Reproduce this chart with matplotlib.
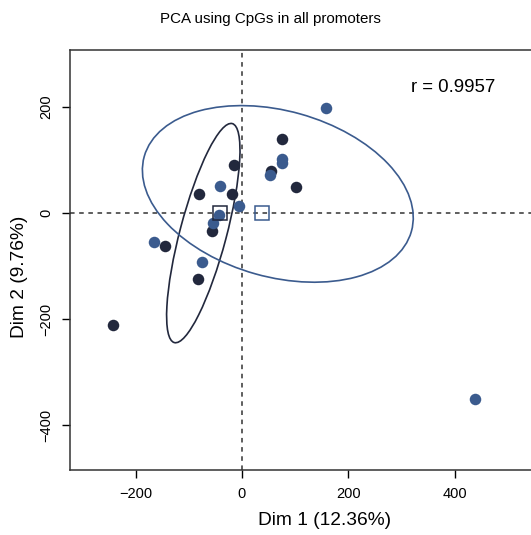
import numpy as np
import matplotlib
matplotlib.use("Agg")
import matplotlib.pyplot as plt
from matplotlib.patches import Ellipse

plt.rcParams['font.family'] = ['Liberation Sans', 'DejaVu Sans']

# group 1 (dark navy)
dark_x = [-242.6, -144.8, -83.3, -80.3, -57.0, -19.4, -15.0, 54.5, 75.2, 101.0]
dark_y = [-211.0, -62.0, -125.0, 35.0, -34.5, 36.4, 91.0, 79.7, 139.0, 49.6]

# group 2 (blue)
blue_x = [159.0, 437.6, -165.0, -74.6, -42.0, -43.9, -53.9, -5.0, 52.0, 74.6, 74.6]
blue_y = [198.0, -349.7, -55.0, -91.6, 50.0, -3.8, -19.5, 13.8, 71.6, 101.7, 93.5]

# ellipses: center x, center y, full width, full height, angle (deg)
dark_ell = (-72.7, -37.8, 426.6, 87.6, 75.2)
blue_ell = (67.5, 36.0, 522.0, 312.8, -15.7)

dark_col = "#22283d"
blue_col = "#3b5b8e"

fig = plt.figure(figsize=(5.31, 5.35), dpi=100)
# plot region runs past the right edge of the image, as in the original
ax = fig.add_axes([0.1318, 0.1215, 0.9605, 0.785])

ax.axhline(0, color="#333333", ls=(0, (3, 3)), lw=1.1, zorder=1)
ax.axvline(0, color="#333333", ls=(0, (3, 3)), lw=1.1, zorder=1)

for (cx, cy, w, h, ang), col in [(dark_ell, dark_col), (blue_ell, blue_col)]:
    ax.add_patch(Ellipse((cx, cy), w, h, angle=ang, fill=False,
                         edgecolor=col, lw=1.2, zorder=2))

ax.plot(dark_x, dark_y, "o", color=dark_col, ms=8.3, mew=0, zorder=3)
ax.plot(blue_x, blue_y, "o", color=blue_col, ms=8.3, mew=0, zorder=3)

# group centroids
ax.plot(np.mean(dark_x), np.mean(dark_y), "s", mfc="none", mec=dark_col,
        ms=9.5, mew=1.1, zorder=4)
ax.plot(np.mean(blue_x), np.mean(blue_y), "s", mfc="none", mec=blue_col,
        ms=9.5, mew=1.1, zorder=4)

ax.text(318, 237, "r = 0.9957", fontsize=13.4, va="center", ha="left")

ax.set_xlim(-323.5, 636)
ax.set_ylim(-484, 307)
ax.set_xticks([-200, 0, 200, 400])
ax.set_yticks([-400, -200, 0, 200])
ax.tick_params(direction="out", length=6, width=1, labelsize=10.5, pad=6)
for lab in ax.get_yticklabels():
    lab.set_rotation(90)
    lab.set_va("center")
for sp in ax.spines.values():
    sp.set_linewidth(1.1)
    sp.set_color("#333333")

ax.set_xlabel("Dim 1 (12.36%)", fontsize=13.8, labelpad=8)
ax.set_ylabel("Dim 2 (9.76%)", fontsize=13.8, labelpad=8)
ax.yaxis.label.set_y(0.46)
fig.text(0.5094, 0.964, "PCA using CpGs in all promoters", fontsize=10.9,
         ha="center", va="center")

fig.savefig("out.png", dpi=100)
